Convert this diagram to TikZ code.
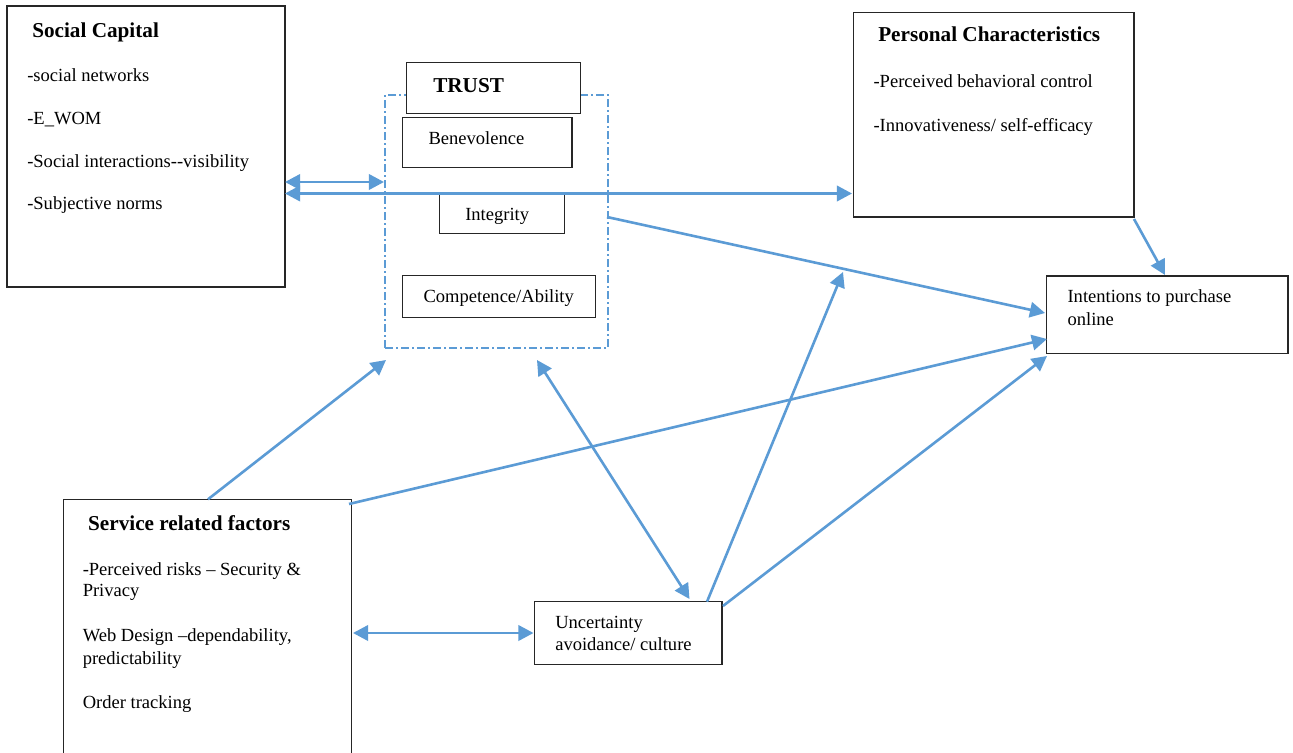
\documentclass[tikz,border=0pt]{standalone}
\usepackage{fontspec}
\setmainfont{Liberation Serif}
\usetikzlibrary{arrows.meta,fit}
\definecolor{arr}{HTML}{5B9BD5}
\tikzset{
 box/.style={draw=black!85, line width=1pt, fill=white, inner sep=0pt},
 txt/.style={anchor=base west, inner sep=0pt, font=\fontsize{13.9}{16}\selectfont},
 hdr/.style={anchor=base west, inner sep=0pt, font=\fontsize{15.9}{18}\selectfont\bfseries},
 tip/.tip={Triangle[length=11.3pt,width=11.5pt]},
 con/.style={draw=arr, line width=1.95pt, -tip},
 dcon/.style={draw=arr, line width=1.95pt, tip-tip},
 dashframe/.style={draw=arr, line width=0.8pt, inner sep=0pt, dash pattern=on 6pt off 2.5pt on 1pt off 2.5pt}
}
\begin{document}
\begin{tikzpicture}[x=0.75pt,y=-0.75pt]
\clip (0,0) rectangle (1293,753);
\fill[white] (0,0) rectangle (1293,753);
% trust frame
\node[dashframe, fit={(385,95)(608,348)}] (trustframe) {};
% boxes
\node[box, fit={(7,6)(285,287)}] (sc) {};
\node[box, fit={(406.7,62.3)(580.7,113.3)}] (trust) {};
\node[box, fit={(402.7,117.3)(572,167.3)}] (ben) {};
\node[box, fit={(439.3,194)(564.3,233.3)}] (integ) {};
\node[box, fit={(402.7,275.7)(595.3,317.3)}] (comp) {};
\node[box, fit={(853.3,12.3)(1134,217)}] (pc) {};
\node[box, fit={(1046.7,276)(1288,353.3)}] (intent) {};
\node[box, fit={(63.4,499.3)(351.2,775)}] (srf) {};
\node[box, fit={(534.8,601.7)(722,664.3)}] (unc) {};
% texts
\node[hdr] (t1) at (32,37) {Social Capital};
\node[txt] (t2) at (27,81) {-social networks};
\node[txt] (t3) at (27,124) {-E\_WOM};
\node[txt] (t4) at (27,167) {-Social interactions-{}-visibility};
\node[txt] (t5) at (27,209) {-Subjective norms};
\node[hdr] (t6) at (433,92.3) {TRUST};
\node[txt] (t7) at (428.3,144.3) {Benevolence};
\node[txt] (t8) at (465,220.7) {Integrity};
\node[txt] (t9) at (423.3,302.3) {Competence/Ability};
\node[hdr] (t10) at (878,41.7) {Personal Characteristics};
\node[txt] (t11) at (873.3,87.3) {-Perceived behavioral control};
\node[txt] (t12) at (873.3,131) {-Innovativeness/ self-efficacy};
\node[txt] (t13) at (1067.3,302.7) {Intentions to purchase};
\node[txt] (t14) at (1067.3,325) {online};
\node[hdr] (t15) at (87.9,530) {Service related factors};
\node[txt] (t16) at (82.5,575) {-Perceived risks – Security \&};
\node[txt] (t17) at (82.5,596.7) {Privacy};
\node[txt] (t18) at (82.5,641.7) {Web Design –dependability,};
\node[txt] (t19) at (82.5,664.3) {predictability};
\node[txt] (t20) at (82.5,708.3) {Order tracking};
\node[txt] (t21) at (555,628.3) {Uncertainty};
\node[txt] (t22) at (555,650.7) {avoidance/ culture};
% connector end points
\coordinate (sc1) at (285,182);
\coordinate (tf1) at (384,182);
\coordinate (sc2) at (285,193.5);
\coordinate (pc1) at (852,193.5);
\coordinate (tf2) at (607,217);
\coordinate (in1) at (1045,313);
\coordinate (sr1) at (349,504);
\coordinate (in2) at (1047,339);
\coordinate (un1) at (723,606);
\coordinate (in3) at (1047,356);
\coordinate (un2) at (707,601.7);
\coordinate (mid) at (843,272);
\coordinate (tf3) at (537,360);
\coordinate (un3) at (689.5,599);
\coordinate (sr2) at (208,499.3);
\coordinate (tf4) at (386,360);
\coordinate (pc2) at (1134,219);
\coordinate (in4) at (1165,275);
\coordinate (sr3) at (353,633);
\coordinate (un4) at (533.5,633);
% connectors
\draw[dcon] (sc1) -- (tf1);
\draw[dcon] (sc2) -- (pc1);
\draw[con] (tf2) -- (in1);
\draw[con] (sr1) -- (in2);
\draw[con] (un1) -- (in3);
\draw[con] (un2) -- (mid);
\draw[dcon] (tf3) -- (un3);
\draw[con] (sr2) -- (tf4);
\draw[con] (pc2) -- (in4);
\draw[dcon] (sr3) -- (un4);
\end{tikzpicture}
\end{document}
